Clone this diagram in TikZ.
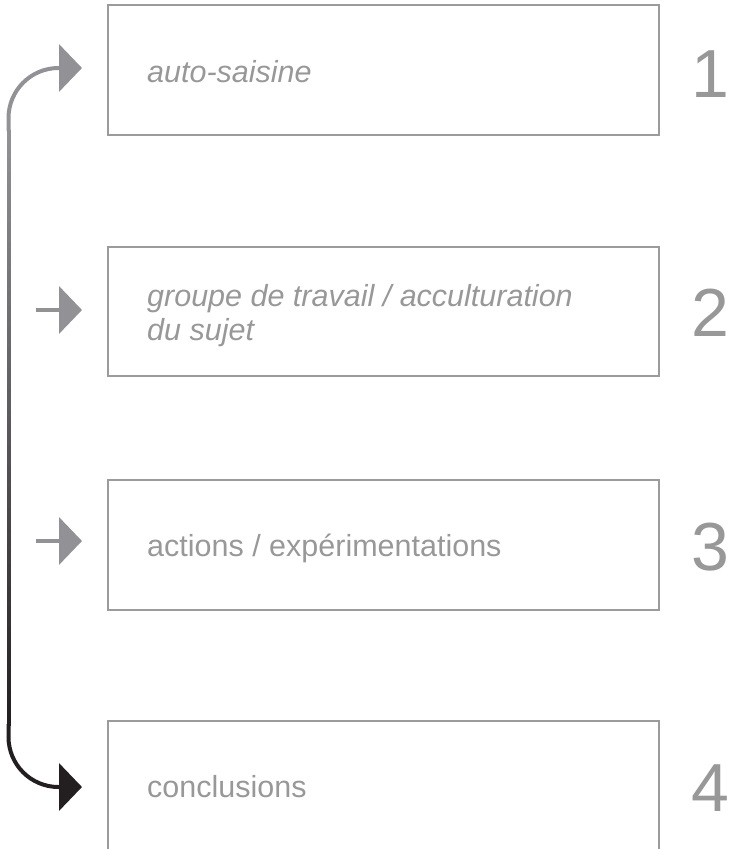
\documentclass[tikz,border=0pt]{standalone}
\usepackage{fontspec}
\setmainfont{Liberation Sans}
\usetikzlibrary{arrows.meta,calc}
\definecolor{boxgray}{RGB}{155,155,155}
\definecolor{txtgray}{RGB}{152,152,152}
\definecolor{arrgray}{RGB}{146,146,150}
\definecolor{arrblack}{RGB}{35,31,32}
\tikzset{
  stepbox/.style={draw=boxgray, line width=2.5pt, fill=none},
  boxtext/.style={anchor=base west, inner sep=0pt, text=txtgray, font=\fontsize{30.5}{35}\selectfont},
  numtext/.style={anchor=base west, inner sep=0pt, text=txtgray, font=\fontsize{68}{68}\selectfont},
  bigtip/.style={-{Triangle[length=23pt,width=47pt]}},
  smallarrow/.style={arrgray, line width=4pt, bigtip},
  loopline/.style={line width=4pt, rounded corners=50pt}
}
\begin{document}
\begin{tikzpicture}[x=1pt,y=-1pt]
\useasboundingbox (0,0) rectangle (732,849);
% boxes
\draw[stepbox] (108,5) rectangle (659,135);
\draw[stepbox] (108,247) rectangle (659,376);
\draw[stepbox] (108,480) rectangle (659,610);
\draw[stepbox] (108,721) rectangle (659,870);
% texts
\node[boxtext] (t1) at (147,82) {\itshape auto-saisine};
\node[boxtext] (t2) at (147,306) {\itshape groupe de travail / acculturation};
\node[boxtext] (t2b) at (147,340) {\itshape du sujet};
\node[boxtext] (t3) at (147,556) {actions / expérimentations};
\node[boxtext] (t4) at (147,797) {conclusions};
% numbers
\node[numtext] (n1) at (691,97) {1};
\node[numtext] (n2) at (691,336) {2};
\node[numtext] (n3) at (691,570) {3};
\node[numtext] (n4) at (691,811) {4};
% arrow tips
\coordinate (a1) at (82,68);
\coordinate (a2) at (82,310);
\coordinate (a3) at (82,541);
\coordinate (a4) at (82,787);
\coordinate (s2) at (36,310);
\coordinate (s3) at (36,541);
\coordinate (vtop) at (8.5,130);
\coordinate (vbot) at (8.5,725);
% small arrows
\draw[smallarrow] (s2) -- (a2);
\draw[smallarrow] (s3) -- (a3);
% loop connector with gradient
\draw[loopline, arrgray, bigtip] ($(vtop)+(0,1)$) |- (a1);
\foreach \i in {0,...,84}{
  \pgfmathsetmacro\p{100*(\i+0.5)/85}
  \draw[line width=4pt, arrblack!\p!arrgray] (8.5,{130+\i*7}) -- (8.5,{130+(\i+1)*7+0.6});
}
\draw[loopline, arrblack, bigtip] ($(vbot)+(0,-1)$) |- (a4);
\end{tikzpicture}
\end{document}
